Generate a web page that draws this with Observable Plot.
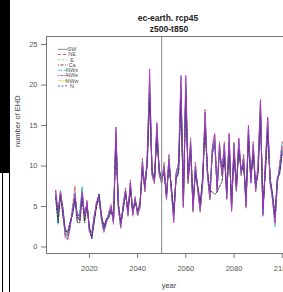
<!DOCTYPE html>
<html><head><meta charset="utf-8">
<script src="https://cdn.jsdelivr.net/npm/d3@7"></script>
<script src="https://cdn.jsdelivr.net/npm/@observablehq/plot@0.6"></script>
<style>
html,body{margin:0;padding:0;background:#fff;width:283px;height:292px;overflow:hidden;}
#wrap{position:relative;width:283px;height:292px;}
#chart{position:absolute;left:0;top:0;}
.edge{position:absolute;background:#000;}
</style></head>
<body><div id="wrap"><div id="chart"></div>
<div class="edge" style="left:0;top:0;width:10px;height:173px"></div>
<div class="edge" style="left:2px;top:173px;width:1px;height:119px"></div>
<div class="edge" style="left:9px;top:173px;width:1px;height:119px"></div>
</div>
<script>
const firstYear = 2006, lastYear = 2100;
const typeNames = ["SW","NE","E","Ca","NWs","NWe","NWw","N"];
const typeColors = ["#666666","#e03c3c","#2fbf6f","#1a1a1a","#2cc4cc","#c02cc8","#e0d530","#3c3cbc"];
const typeDash = ["none","3,2","1,1.5","1,1.5,3,1.5","4,1.5","1.5,1,3,1","none","2,1.5"];
const drawOrder = [6,2,1,0,4,3,7,5];
const xTicks = [2020,2040,2060,2080,2100];
const yTicks = [0,5,10,15,20,25];
const splitYear = 2050;

const SW = [6.5,4.2,6.5,4.8,
 1.8,1.5,2.8,4.2,6,3.8,3.2,6.5,3.8,5.2,
 2.2,1.8,3.8,5.2,5.8,3.8,2.3,3.3,3.8,4.8,
 3.3,13.5,5.3,2.8,4.8,6.8,4.3,7.5,4.3,5.8,
 4.3,5.2,10,7.3,10.5,19.5,9.3,8.3,14,9.3,
 8.3,9.5,6.3,10.5,7.3,4,8.7,9.5,19.5,5.5,
 19.5,8.3,12.5,5,9.5,7.3,5,8.3,15.5,9.3,
 6.5,11.5,13,7.3,12,9.3,12,6.5,13,5,
 12,7.3,12.5,9.3,10.5,5.5,14,8.3,12,7.3,
 9.5,17,4.5,9.5,15,8.3,6.3,3.5,8.3,9.5,
 12];
const NE = [7,3.5,7,4.3,
 1.3,1,2.3,5,7.5,3.3,3.8,7,3.3,5.8,
 1.8,1.3,3.3,5.8,6.3,3.3,1.8,2.8,4.3,5.3,
 2.8,14,4.8,2.3,5.3,7.3,3.8,8.3,3.8,6.3,
 3.8,4.8,11,6.8,11.5,20.5,8.8,7.8,15,8.8,
 7.8,10.5,5.8,11.5,6.8,3.3,9.3,10.5,20,4.8,
 20,7.8,13.5,4.3,10.5,6.8,4.3,7.8,17,8.8,
 5.8,12.5,14,6.8,13,8.8,13,5.8,14,4.3,
 13,6.8,13.5,8.8,11.5,4.8,15,7.8,13,6.8,
 10.5,18,3.8,10.5,16,7.8,5.8,2.8,7.8,10.5,
 13];
const E = [6.3,4,6.6,4.6,
 1.6,1.4,2.6,4.4,6.3,3.6,3.6,7.2,3.6,5.4,
 2.1,1.6,3.6,5.4,5.9,3.6,2.1,3.1,4.1,4.9,
 3.1,14.2,5.1,2.6,5.1,6.9,4.1,7.9,4.1,5.9,
 4.1,5.1,10.3,7.1,10.8,20,9.1,8.1,14.8,9.1,
 8.1,9.8,6.1,10.8,7.1,3.6,9.1,9.8,19.8,5.1,
 20.2,8.1,12.8,4.6,9.8,7.1,4.6,8.1,16,9.1,
 6.1,11.8,13.2,7.1,12.3,9.1,12.3,6.1,13.2,4.6,
 12.3,7.1,12.8,9.1,10.8,5.1,14.2,8.1,12.3,7.1,
 9.8,17.5,4.1,9.8,15.2,8.1,6.1,3.1,8.1,9.8,
 12.2];
const Ca = [6,3,6.3,3.8,
 2,1.8,3,4,5.8,3,3,6,3,5,
 2.5,1,3,5,6.5,4,2.5,3.5,3.5,4.5,
 3.5,13,5.5,3,4.5,6.5,4.5,7,4.5,5.5,
 4.5,5.5,9.5,7.5,10,18,9.5,8.5,13.5,9.5,
 8.5,9,6.5,10,7.5,4.5,8.5,9,18.5,6,
 18.5,8.5,12,5.5,9,7.5,5.5,8.5,14.5,9.5,
 7,6.8,6.5,6.8,7.5,8,11,7,12,5.5,
 11.5,7.5,12,9.5,10,6,13,8.5,11.5,7.5,
 9,16,5,9,14,8.5,6.5,4,8.5,9,
 11.5];
const NWs = [6.6,2.8,7,4.2,
 1.4,1.3,2.4,4.6,6.8,3.4,4.5,7.5,3.4,5.6,
 1.9,1.4,3.4,5.6,6.1,3.4,1.9,2.9,4.2,5.1,
 2.9,14.8,4.9,2.4,5.2,7.1,3.9,8.1,3.9,6.1,
 3.9,4.9,10.7,6.9,11.2,21,8.9,7.9,15.2,8.9,
 7.9,10.2,5.9,11.2,6.9,3.4,9.2,10.2,21,4.9,
 20.8,7.9,13.2,4.4,10.2,6.9,4.4,7.9,16.6,8.9,
 5.9,12.2,13.8,6.9,12.8,8.9,12.8,5.9,13.8,4.4,
 12.8,6.9,13.2,8.9,11.2,4.9,14.8,7.9,12.8,6.9,
 10.2,18.2,3.9,10.2,15.8,7.9,5.9,2.5,7.9,10.2,
 12.8];
const NWe = [7,4.5,6.8,4.6,
 1.2,0.9,2.5,4.6,6.5,3.6,3.5,6.8,3.6,5.6,
 2,1.5,3.6,5.6,6,3.5,2,3,4,5,
 3,14.8,5,2.5,5,7,4,8,4,6,
 4,5,10.5,7,11,22,9,8,15.4,9,
 8,10,6,11,7,3,9,10,21.2,5,
 21.2,8,13,4.5,10,7,4.5,8,16.7,9,
 6,12,14,7,12.7,9,12.7,6,14,4.5,
 12.7,7,13.4,9,11,5,15,8,12.7,7,
 10,18.2,4,10,16,8,6,3,8,10,
 12.5];
const NWw = [6.7,3.9,6.9,4.4,
 1.7,1.3,2.7,4.5,6.6,3.5,3.6,6.9,3.5,5.5,
 2.1,1.6,3.5,5.5,6.1,3.6,2.1,3,4,5,
 3,14.4,5,2.6,5,7,4,8,4,6,
 4,5,10.4,7,11,20.8,9,8,14.9,9,
 8,10,6,11,7,3.6,9,10,20.4,5,
 20.4,8,12.9,4.6,10,7,4.6,8,16.4,9,
 6,12,13.4,7,12.4,9,12.4,6,13.4,4.6,
 12.4,7,12.9,9,11,5,14.4,8,12.4,7,
 10,17.8,4,10,15.4,8,6,3,8,10,
 12.4];
const N = [6.4,4.3,6.4,4.9,
 2.2,1.9,3.2,4.2,6,3.9,3.9,6.3,3.9,5.2,
 2.4,1.1,3.9,5.2,6.6,3.9,2.4,3.4,3.7,4.7,
 3.4,13.8,5.4,3,4.7,6.7,4.4,7.4,4.4,5.7,
 4.4,5.4,9.8,7.4,10.4,19,9.4,8.4,14.2,9.4,
 8.4,9.4,6.4,10.4,7.4,4.2,8.6,9.4,19,5.7,
 19.2,8.4,12.2,5.2,9.4,7.4,5.2,8.4,15.2,9.4,
 6.7,11.4,12.8,7.4,11.8,9.4,11.8,6.7,12.8,5.2,
 11.8,7.4,12.2,9.4,10.4,5.7,13.8,8.4,11.8,7.4,
 9.4,16.8,4.6,9.4,14.6,8.4,6.6,3.7,8.4,9.4,
 11.8];

const seriesValues = [SW,NE,E,Ca,NWs,NWe,NWw,N];
const years = d3.range(firstYear, lastYear + 1);

const lineMarks = drawOrder.map(i =>
  Plot.line(seriesValues[i].map((v, k) => ({year: years[k], value: v})), {
    x: "year", y: "value", stroke: typeColors[i], strokeWidth: 1,
    strokeDasharray: typeDash[i], strokeOpacity: 0.85
  })
);

const xMin = 2002.2, xMax = 2100.55, yMin = -0.8, yMax = 26;
const frameColor = "#777";

const svg = Plot.plot({
  width: 283, height: 292,
  marginTop: 36, marginLeft: 46, marginRight: 0, marginBottom: 39,
  style: {fontFamily: "'Liberation Sans', Arial, sans-serif", fontSize: "7.5px", color: "#555", background: "#fff"},
  x: {domain: [xMin, xMax]},
  y: {domain: [yMin, yMax]},
  marks: [
    ...lineMarks,
    Plot.ruleX([splitYear], {stroke: "#888", strokeWidth: 1}),
    Plot.ruleX([xMin], {stroke: frameColor}),
    Plot.ruleY([yMax], {stroke: frameColor}),
    Plot.ruleY([yMin], {stroke: frameColor}),
    Plot.axisX({ticks: xTicks, tickFormat: d => String(d), tickSize: 5, tickPadding: 7, label: null, stroke: frameColor, fill: "#555"}),
    Plot.axisY({ticks: yTicks, tickSize: 5, tickPadding: 4, label: null, stroke: frameColor, fill: "#555"}),
    Plot.text(["ec-earth. rcp45"], {text: d => d, frameAnchor: "top", dy: -22, dx: 3, fontWeight: "bold", fontSize: 8.5, fill: "#222"}),
    Plot.text(["z500-t850"], {text: d => d, frameAnchor: "top", dy: -11, dx: 4, fontWeight: "bold", fontSize: 8.5, fill: "#222"}),
    Plot.text(["year"], {text: d => d, frameAnchor: "bottom", dy: 34, dx: 4, fontSize: 7.5, fill: "#444"}),
    Plot.text(["number of EHD"], {text: d => d, frameAnchor: "left", dx: -29, dy: 2, rotate: -90, fontSize: 7.5, fill: "#444"})
  ]
});

// legend (top-left inside the panel)
const lg = d3.select(svg).append("g");
typeNames.forEach((name, i) => {
  const y = 49.3 + i * 5.24;
  lg.append("line").attr("x1", 58).attr("x2", 68).attr("y1", y).attr("y2", y)
    .attr("stroke", typeColors[i]).attr("stroke-width", 0.8)
    .attr("stroke-dasharray", typeDash[i] === "none" ? null : typeDash[i]);
  lg.append("text").attr("x", 72).attr("y", y).attr("dy", "0.35em")
    .attr("font-size", 5.5).attr("fill", "#555").text(name);
});

document.getElementById("chart").appendChild(svg);
</script>
</body></html>
